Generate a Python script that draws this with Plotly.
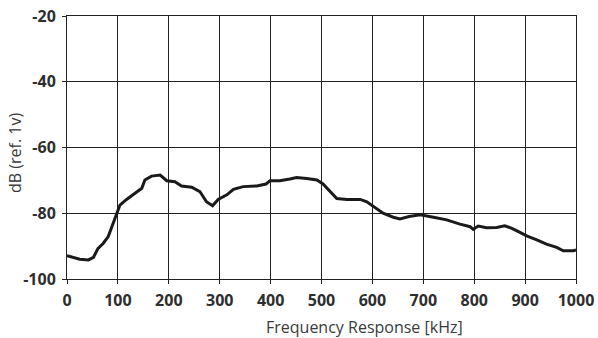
import plotly.graph_objects as go

freq_khz = [0, 12, 25, 42, 52, 61, 71, 81, 88, 98, 104, 117, 134, 147, 153, 166, 183,
            196, 212, 225, 245, 261, 274, 286, 297, 314, 327, 346, 373, 391, 399, 418,
            438, 451, 471, 491, 503, 517, 530, 550, 576, 589, 602, 621, 641, 654, 672,
            694, 720, 746, 772, 792, 798, 808, 824, 844, 860, 874, 887, 903, 923, 942,
            962, 975, 995, 1000]
db_values = [-92.9, -93.4, -94.0, -94.2, -93.4, -90.7, -89.2, -87.1, -84.1, -80.0, -77.5,
             -75.8, -73.9, -72.4, -69.9, -68.7, -68.4, -70.1, -70.4, -71.7, -72.1, -73.4,
             -76.5, -77.7, -75.8, -74.4, -72.7, -71.9, -71.7, -71.1, -70.1, -70.1, -69.6,
             -69.1, -69.4, -69.9, -71.1, -73.4, -75.5, -75.8, -75.8, -76.5, -78.0, -80.0,
             -81.2, -81.7, -81.0, -80.5, -81.2, -82.0, -83.3, -84.1, -84.9, -83.9, -84.4,
             -84.3, -83.8, -84.6, -85.6, -86.9, -88.1, -89.4, -90.4, -91.4, -91.4, -91.2]

x_ticks = [0, 100, 200, 300, 400, 500, 600, 700, 800, 900, 1000]
y_ticks = [-100, -80, -60, -40, -20]

W, H = 598, 338
L, R, T, B = 67, 22, 16, 59

fig = go.Figure()
fig.add_trace(go.Scatter(
    x=freq_khz, y=db_values, mode="lines",
    line=dict(color="#1a1a1a", width=3, shape="linear"),
    showlegend=False, hoverinfo="skip"))

tickfont = dict(family="Open Sans", size=16, color="#2e2e2e", weight="bold")
titlefont = dict(family="Open Sans", size=16, color="#3a3a3a")

fig.update_layout(
    width=W, height=H,
    margin=dict(l=L, r=R, t=T, b=B),
    paper_bgcolor="white", plot_bgcolor="white",
    xaxis=dict(
        range=[0, 1000], tickvals=x_ticks, ticktext=[str(v) for v in x_ticks],
        showgrid=True, gridcolor="#222222", gridwidth=1,
        showline=True, linecolor="#222222", linewidth=1, mirror=True,
        ticks="outside", ticklen=4, tickcolor="#222222",
        tickfont=tickfont, zeroline=False, automargin=False, ticklabelstandoff=3,
    ),
    yaxis=dict(
        range=[-100, -20], tickvals=y_ticks, ticktext=[str(v) for v in y_ticks],
        showgrid=True, gridcolor="#222222", gridwidth=1,
        showline=True, linecolor="#222222", linewidth=1, mirror=True,
        ticks="outside", ticklen=4, tickcolor="#222222",
        tickfont=tickfont, zeroline=False, automargin=False, ticklabelstandoff=3,
    ),
    annotations=[
        dict(text="Frequency Response [kHz]", font=titlefont, showarrow=False,
             xref="paper", yref="paper",
             x=(364 - L) / (W - L - R), y=-(327 - (H - B)) / (H - T - B),
             xanchor="center", yanchor="middle"),
        dict(text="dB (ref. 1v)", font=titlefont, showarrow=False, textangle=-90,
             xref="paper", yref="paper",
             x=(15 - L) / (W - L - R), y=1 - (153 - T) / (H - T - B),
             xanchor="center", yanchor="middle"),
    ],
)

fig.write_html("out.html")
